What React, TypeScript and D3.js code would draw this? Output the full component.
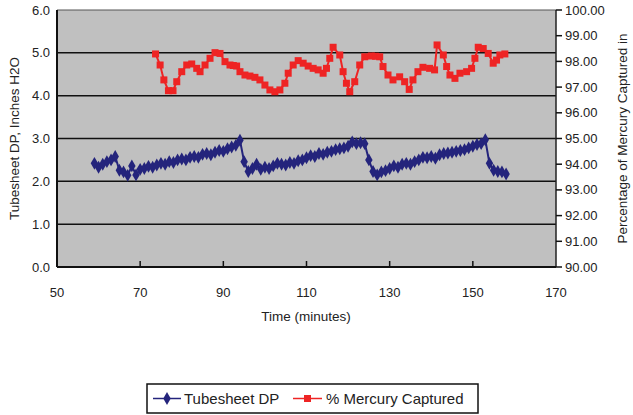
import React from 'react'
import * as d3 from 'd3'

// Tubesheet DP (left axis), sampled each minute
const dpTime = [
  59, 60, 61, 62, 63, 64, 65, 66, 67, 68, 69, 70, 71, 72, 73, 74, 75, 76, 77, 78,
  79, 80, 81, 82, 83, 84, 85, 86, 87, 88, 89, 90, 91, 92, 93, 94, 95, 96, 97, 98,
  99, 100, 101, 102, 103, 104, 105, 106, 107, 108, 109, 110, 111, 112, 113, 114, 115, 116, 117, 118,
  119, 120, 121, 122, 123, 124, 125, 126, 127, 128, 129, 130, 131, 132, 133, 134, 135, 136, 137, 138,
  139, 140, 141, 142, 143, 144, 145, 146, 147, 148, 149, 150, 151, 152, 153, 154, 155, 156, 157, 158
]
const dpValues = [
  2.42, 2.33, 2.40, 2.46, 2.5, 2.58, 2.26, 2.22, 2.14, 2.36, 2.15, 2.28, 2.3, 2.35, 2.33, 2.38, 2.42, 2.4, 2.46, 2.44,
  2.5, 2.52, 2.5, 2.56, 2.58, 2.56, 2.63, 2.65, 2.62, 2.68, 2.72, 2.7, 2.76, 2.8, 2.84, 2.96, 2.46, 2.23, 2.3, 2.4,
  2.28, 2.33, 2.3, 2.36, 2.42, 2.4, 2.38, 2.44, 2.42, 2.48, 2.5, 2.55, 2.6, 2.58, 2.65, 2.63, 2.68, 2.7, 2.74, 2.76,
  2.78, 2.82, 2.92, 2.88, 2.9, 2.88, 2.5, 2.23, 2.15, 2.22, 2.25, 2.3, 2.36, 2.33, 2.4, 2.42, 2.4, 2.46, 2.5, 2.56,
  2.55, 2.58, 2.54, 2.62, 2.65, 2.66, 2.68, 2.7, 2.72, 2.74, 2.78, 2.82, 2.86, 2.88, 2.97, 2.42, 2.26, 2.23, 2.22, 2.17
]

// % Mercury captured (right axis)
const hgTime = [
  73.7, 74.8, 75.7, 76.8, 77.9, 78.8, 80, 81.2, 82.4, 83.6, 84.4, 85.6, 86.8, 88, 89.2, 90.4, 91.6, 92.4, 93.2, 94,
  95.2, 96.4, 97.6, 98.8, 100, 101.2, 102.4, 103.6, 104.8, 105.6, 106.8, 108, 109.2, 110.4, 111.6, 112.8, 114, 114.8, 115.6, 116.4,
  118, 118.8, 119.6, 120.4, 121.6, 122.8, 124, 125.6, 126.6, 127.6, 128.4, 129.6, 130.8, 132.4, 133.6, 134.7, 135.6, 136.8, 138, 139.6,
  140.8, 141.4, 142.9, 143.7, 144.5, 145.7, 146.9, 148.5, 149.7, 150.5, 151.3, 152.5, 153.7, 154.9, 155.7, 156.5, 157.7
]
const hgValues = [
  98.29, 97.86, 97.28, 96.86, 96.86, 97.21, 97.6, 97.86, 97.9, 97.73, 97.6, 97.86, 98.12, 98.34, 98.31, 97.99, 97.86, 97.84, 97.82, 97.6,
  97.47, 97.43, 97.38, 97.28, 97.08, 96.89, 96.82, 96.89, 97.15, 97.54, 97.86, 98.03, 97.93, 97.82, 97.73, 97.67, 97.54, 97.73, 98.12, 98.55,
  98.25, 97.6, 97.15, 96.82, 97.21, 97.86, 98.18, 98.21, 98.2, 98.18, 97.8, 97.47, 97.28, 97.4, 97.21, 96.91, 97.28, 97.6, 97.77, 97.73,
  97.67, 98.64, 98.25, 97.8, 97.47, 97.34, 97.54, 97.6, 97.73, 98.12, 98.55, 98.5, 98.31, 97.93, 98.05, 98.25, 98.29
]

const xTicks = [50, 70, 90, 110, 130, 150, 170]
const leftTicks = [0, 1, 2, 3, 4, 5, 6]
const rightTicks = [90, 91, 92, 93, 94, 95, 96, 97, 98, 99, 100]

const font = "'Liberation Sans', Arial, sans-serif"
const blue = '#24247c'
const red = '#ee2424'

const App = () => {
  const margin = { left: 57, right: 556, top: 10, bottom: 267 }

  const x = d3.scaleLinear().domain([50, 170]).range([margin.left, margin.right])
  const yL = d3.scaleLinear().domain([0, 6]).range([margin.bottom, margin.top])
  const yR = d3.scaleLinear().domain([90, 100]).range([margin.bottom, margin.top])

  const dpLine = d3.line<number>()
    .x((d, i) => x(dpTime[i]))
    .y((d) => yL(d))
  const hgLine = d3.line<number>()
    .x((d, i) => x(hgTime[i]))
    .y((d) => yR(d))

  const diamond = d3.symbol(d3.symbolDiamond, 48)()
  const sq = 7
  const midY = (margin.top + margin.bottom) / 2

  return (
    <svg width={633} height={415} style={{ position: 'absolute', left: 0, top: 0, background: '#fff' }} fontFamily={font}>
      <rect x={margin.left} y={margin.top} width={margin.right - margin.left} height={margin.bottom - margin.top} fill="#c0c0c0" />

      {/* gridlines */}
      {leftTicks.slice(1, -1).map((t) => (
        <line key={t} x1={margin.left} x2={margin.right} y1={yL(t)} y2={yL(t)} stroke="#111" strokeWidth={1.5} />
      ))}

      {/* frame */}
      <line x1={margin.left} x2={margin.right} y1={margin.top} y2={margin.top} stroke="#555" strokeWidth={1} />
      <line x1={margin.right} x2={margin.right} y1={margin.top} y2={margin.bottom} stroke="#222" strokeWidth={1.5} />
      <line x1={margin.left} x2={margin.left} y1={margin.top} y2={margin.bottom} stroke="#111" strokeWidth={2} />
      <line x1={margin.left} x2={margin.right} y1={margin.bottom} y2={margin.bottom} stroke="#111" strokeWidth={2} />

      {/* bottom axis */}
      {xTicks.map((t) => (
        <g key={t}>
          {t > 50 && t < 170 && (
            <line x1={x(t)} x2={x(t)} y1={margin.bottom} y2={margin.bottom - 6} stroke="#111" strokeWidth={1.5} />
          )}
          <text x={x(t)} y={297} textAnchor="middle" fontSize={13} fill="#222">{t}</text>
        </g>
      ))}

      {/* left axis */}
      {leftTicks.map((t) => (
        <text key={t} x={50} y={yL(t) + 4.5} textAnchor="end" fontSize={13} fill="#222">{t.toFixed(1)}</text>
      ))}

      {/* right axis */}
      {rightTicks.map((t) => (
        <g key={t}>
          <line x1={margin.right} x2={margin.right + 6} y1={yR(t)} y2={yR(t)} stroke="#111" strokeWidth={1.5} />
          <text x={565} y={yR(t) + 4.5} fontSize={13} fill="#222">{t.toFixed(2)}</text>
        </g>
      ))}

      {/* series */}
      <path d={dpLine(dpValues) ?? ''} fill="none" stroke={blue} strokeWidth={2} />
      {dpValues.map((d, i) => (
        <path key={i} d={diamond} transform={`translate(${x(dpTime[i])},${yL(d)})`} fill={blue} />
      ))}
      <path d={hgLine(hgValues) ?? ''} fill="none" stroke={red} strokeWidth={2} />
      {hgValues.map((d, i) => (
        <rect key={i} x={x(hgTime[i]) - sq / 2} y={yR(d) - sq / 2} width={sq} height={sq} fill={red} />
      ))}

      {/* axis titles */}
      <text transform={`translate(19,${midY}) rotate(-90)`} textAnchor="middle" fontSize={13.5} fill="#222">
        Tubesheet DP, Inches H2O
      </text>
      <text transform={`translate(627,${midY}) rotate(-90)`} textAnchor="middle" fontSize={13.5} fill="#222">
        Percentage of Mercury Captured in
      </text>
      <text x={306} y={321} textAnchor="middle" fontSize={13.5} fill="#222">Time (minutes)</text>

      {/* legend */}
      <rect x={147} y={384} width={331} height={29} fill="#fff" stroke="#111" strokeWidth={1.5} />
      <line x1={153} x2={181} y1={398.5} y2={398.5} stroke={blue} strokeWidth={1.5} />
      <path d={diamond} transform="translate(167,398.5)" fill={blue} />
      <text x={184} y={404} fontSize={15} fill="#222">Tubesheet DP</text>
      <line x1={293} x2={322} y1={398.5} y2={398.5} stroke={red} strokeWidth={1.5} />
      <rect x={304} y={395} width={7} height={7} fill={red} />
      <text x={326} y={404} fontSize={15} fill="#222">% Mercury Captured</text>
    </svg>
  )
}

export default App
